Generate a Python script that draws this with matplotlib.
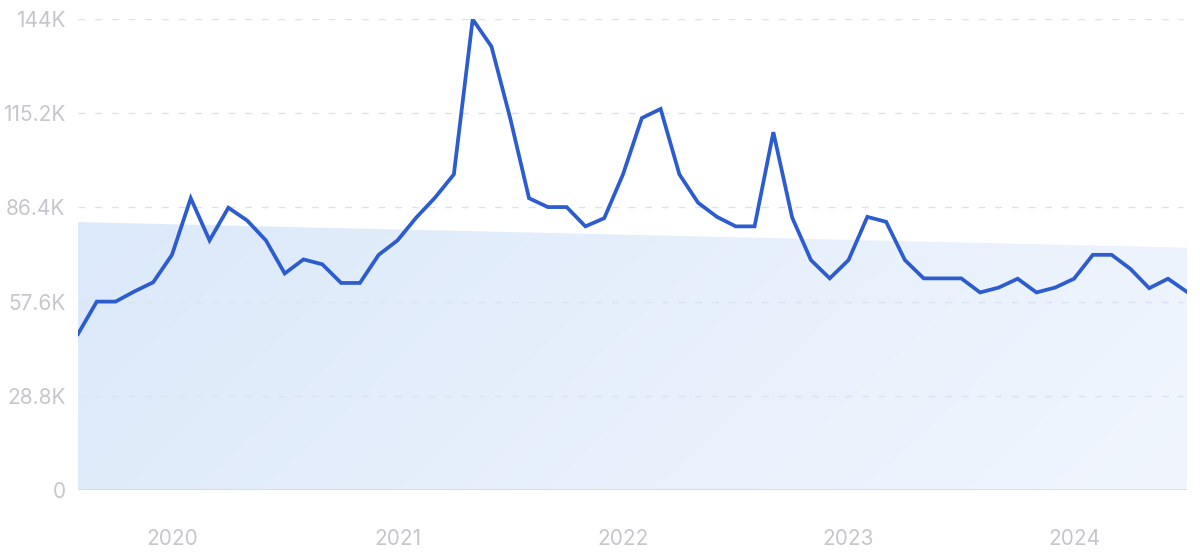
import matplotlib
matplotlib.use('Agg')

import numpy as np
import pandas as pd
import matplotlib.pyplot as plt
from matplotlib.colors import LinearSegmentedColormap
from matplotlib.ticker import FixedLocator

# monthly values, Aug 2019 .. Jul 2024 (thousands)
months = pd.date_range('2019-08-01', periods=60, freq='MS')
values_k = [47.7, 57.6, 57.6, 60.7, 63.5, 71.9, 89.2, 76.3, 86.3, 82.4,
            76.3, 66.2, 70.5, 69.0, 63.3, 63.3, 71.9, 76.3, 83.3, 89.4,
            96.5, 143.9, 135.6, 113.6, 89.2, 86.5, 86.5, 80.6, 83.1, 96.5,
            113.7, 116.5, 96.5, 87.8, 83.5, 80.6, 80.6, 109.4, 83.3, 70.3,
            64.7, 70.3, 83.5, 82.0, 70.3, 64.7, 64.7, 64.7, 60.4, 61.9,
            64.6, 60.4, 61.9, 64.6, 71.9, 71.9, 67.6, 61.7, 64.6, 60.6]
trend_k = [81.9, 74.1]   # trend band, first and last month
ytick_vals = [0, 28800, 57600, 86400, 115200, 144000]
ytick_labels = ['0', '28.8K', '57.6K', '86.4K', '115.2K', '144K']
year_labels = ['2020', '2021', '2022', '2023', '2024']

plt.rcParams['font.family'] = ['Inter', 'DejaVu Sans']

x = np.arange(len(months))
y = np.array(values_k) * 1000
trend = np.linspace(trend_k[0], trend_k[1], len(x)) * 1000

fig = plt.figure(figsize=(12, 5.52), dpi=100)
ax = fig.add_axes([0.065, 0.1123, 0.924, 0.8533])

# gradient-filled trend band
poly = ax.fill_between(x, 0, trend, color='none', lw=0)
cmap = LinearSegmentedColormap.from_list('band', ['#dce9fa', '#f1f6fe'])
gx, gy = np.meshgrid(np.linspace(0, 1, 200), np.linspace(0, 1, 100))
grad = 0.8 * gx + 0.2 * gy
img = ax.imshow(grad, cmap=cmap, aspect='auto', origin='upper',
                extent=[x[0], x[-1], 0, trend.max()], zorder=1)
img.set_clip_path(poly.get_paths()[0], transform=ax.transData)

# grid
for v in ytick_vals[1:]:
    ax.axhline(v, xmax=0.9965, color='#dbe3f0', lw=1, ls=(0, (5, 7)), zorder=2)
ax.axhline(0, color='#c9dbf5', lw=1.2, zorder=2)

ax.plot(x, y, color='#2c5ccf', lw=2.7, solid_joinstyle='miter', zorder=3)

ax.set_xlim(x[0], x[-1])
ax.set_ylim(0, 144000)
ax.yaxis.set_major_locator(FixedLocator(ytick_vals))
ax.set_yticklabels(ytick_labels)
jan_idx = [i for i, m in enumerate(months) if m.month == 1]
ax.set_xticks(jan_idx)
ax.set_xticklabels(year_labels)
ax.tick_params(axis='both', length=0, colors='#c5c7cd', labelsize=15)
ax.tick_params(axis='y', pad=9)
ax.tick_params(axis='x', pad=28)
for s in ax.spines.values():
    s.set_visible(False)

fig.savefig('out.png', dpi=100)
